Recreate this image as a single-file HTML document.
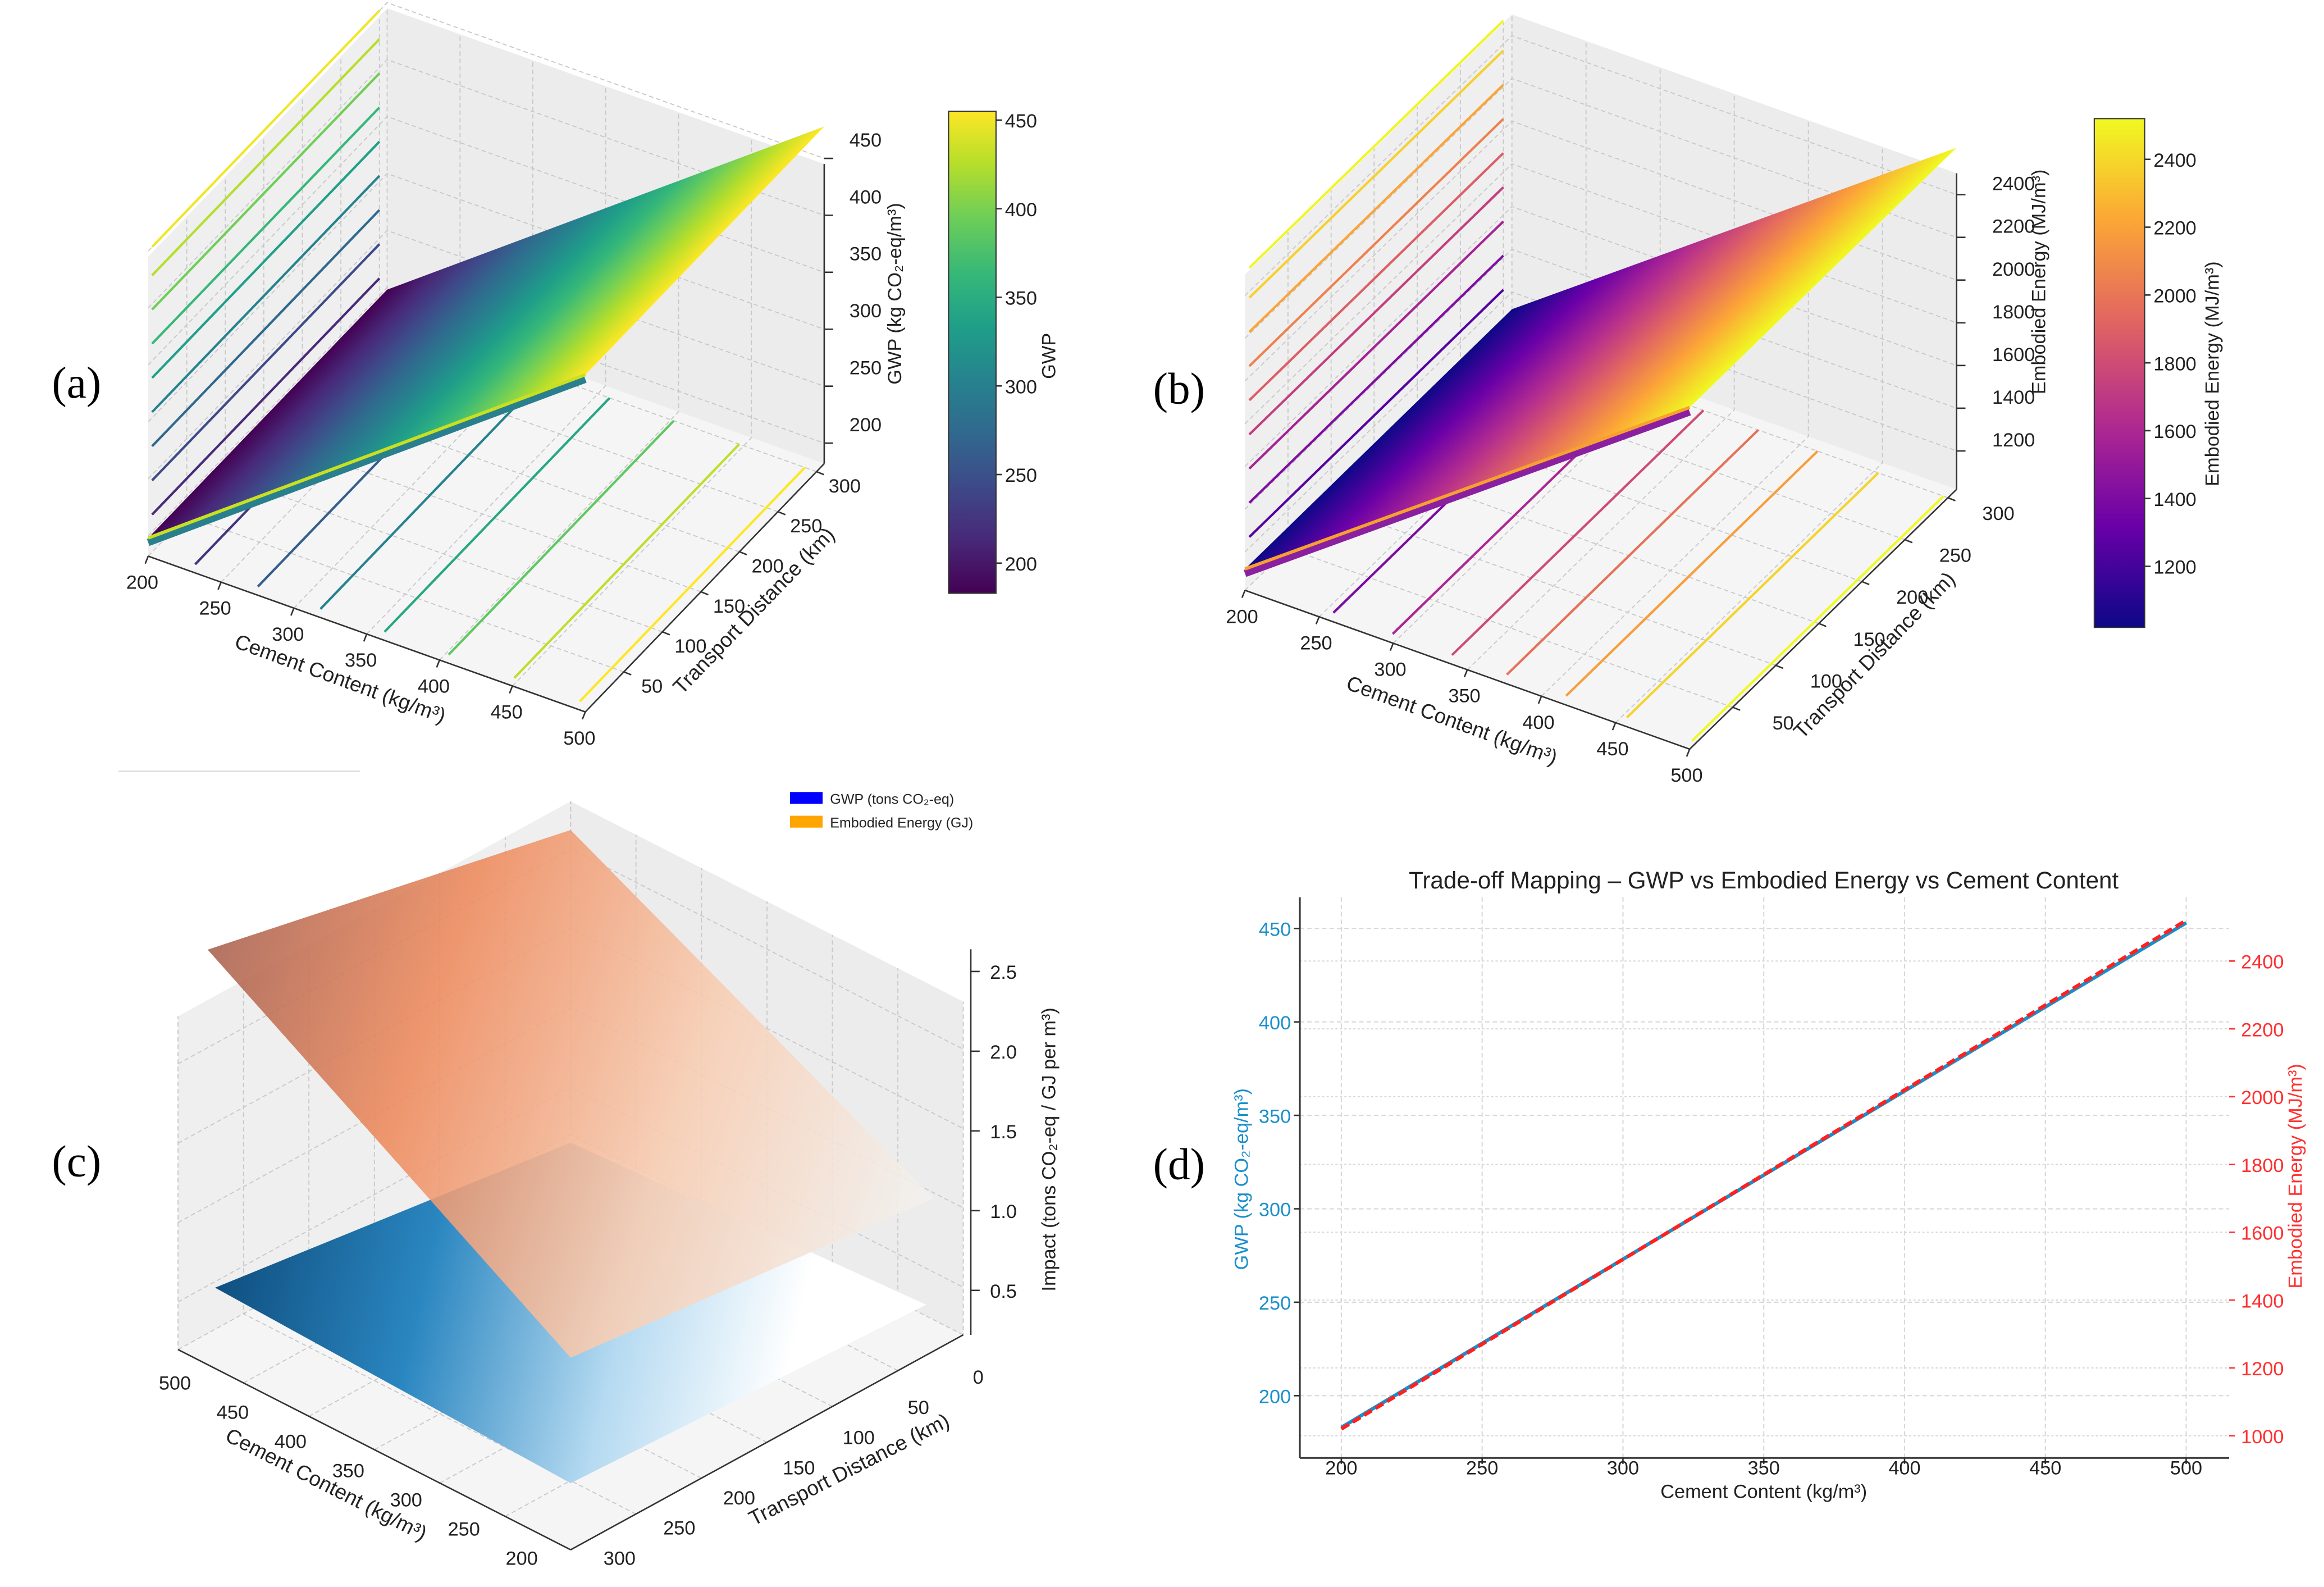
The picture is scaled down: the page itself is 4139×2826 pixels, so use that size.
<!DOCTYPE html>
<html><head><meta charset="utf-8"><style>
html,body{margin:0;padding:0;background:#fff;}
svg{display:block;}
text{font-family:"Liberation Sans","DejaVu Sans",sans-serif;}
</style></head>
<body>
<svg id="fig" xmlns="http://www.w3.org/2000/svg" width="4139" height="2826" viewBox="0 0 1568 1070" preserveAspectRatio="none">
<defs>
<linearGradient id="vir" x1="0" y1="1" x2="0" y2="0">
<stop offset="0" stop-color="#440154"/><stop offset="0.11" stop-color="#482878"/><stop offset="0.22" stop-color="#3e4989"/><stop offset="0.33" stop-color="#31688e"/><stop offset="0.44" stop-color="#26828e"/><stop offset="0.55" stop-color="#1f9e89"/><stop offset="0.66" stop-color="#35b779"/><stop offset="0.78" stop-color="#6ece58"/><stop offset="0.89" stop-color="#b5de2b"/><stop offset="1" stop-color="#fde725"/>
</linearGradient>
<linearGradient id="pla" x1="0" y1="1" x2="0" y2="0">
<stop offset="0" stop-color="#0d0887"/><stop offset="0.2" stop-color="#6a00a8"/><stop offset="0.4" stop-color="#b12a90"/><stop offset="0.6" stop-color="#e16462"/><stop offset="0.8" stop-color="#fca636"/><stop offset="1" stop-color="#f0f921"/>
</linearGradient>
</defs>
<g id="pa"></g>
<g id="pb"></g>
<g id="pc"></g>
<g id="pd"></g>
<text x="35" y="268" font-size="30" style="font-family:'Liberation Serif',serif">(a)</text>
<text x="778" y="272" font-size="30" style="font-family:'Liberation Serif',serif">(b)</text>
<text x="35" y="793" font-size="30" style="font-family:'Liberation Serif',serif">(c)</text>
<text x="778" y="795" font-size="30" style="font-family:'Liberation Serif',serif">(d)</text>
<line x1="80" y1="520" x2="243" y2="520" stroke="#ddd" stroke-width="1"/>
</svg>
<script>
// ---------- data ----------
const cementTicks=[200,250,300,350,400,450,500];
const transportTicks=[50,100,150,200,250,300];
const gwpTicks=[200,250,300,350,400,450];
const energyTicks=[1200,1400,1600,1800,2000,2200,2400];
const cbarGwpTicks=[200,250,300,350,400,450];
const cbarEnergyTicks=[1200,1400,1600,1800,2000,2200,2400];
const surfCement=[200,500];
const surfGwp=[198,478];
const surfEnergy=[1120,2620];
const wallLevelsA=[215,245,275,305,335,365,395,425,450];
const floorCementA=[228,271,314,358,402,447,492];
const wallLevelsB=[1250,1410,1570,1730,1890,2050,2210,2370,2510];
const floorCementB=[255,295,335,372,412,453,497];
const cTicksC=[500,450,400,350,300,250,200];
const tTicksC=[0,50,100,150,200,250,300];
const zTicksC=[0.5,1.0,1.5,2.0,2.5];
const energyCornersC=[2.72,2.12,1.06,1.41]; // (500,300),(500,0),(200,0),(200,300)
const gwpCornersC=[0.59,0.15,0.39,0.62];
const dCement=[200,500];
const dGwp=[183,453];
const dEnergy=[1020,2520];
const dXTicks=[200,250,300,350,400,450,500];
const dYLTicks=[200,250,300,350,400,450];
const dYRTicks=[1000,1200,1400,1600,1800,2000,2200,2400];

const NS='http://www.w3.org/2000/svg';
function mk(tag,attrs,parent,name){
  const e=document.createElementNS(NS,tag);
  for(const k in attrs)e.setAttribute(k,attrs[k]);
  
  
  parent.appendChild(e);return e;
}
function txt(parent,x,y,s,size,name,opts){
  opts=opts||{};
  const e=mk('text',{x:x,y:y,'font-size':size,'text-anchor':opts.anchor||'middle',fill:opts.fill||'#222'},parent,name);
  if(opts.rot!==undefined)e.setAttribute('transform','rotate('+opts.rot+' '+x+' '+y+')');
  e.textContent=s;return e;
}
const virStops=['#440154','#482878','#3e4989','#31688e','#26828e','#1f9e89','#35b779','#6ece58','#b5de2b','#fde725'];
const plaStops=['#0d0887','#6a00a8','#b12a90','#e16462','#fca636','#f0f921'];
function hx(h){return [parseInt(h.substr(1,2),16),parseInt(h.substr(3,2),16),parseInt(h.substr(5,2),16)];}
function cmap(st,f){f=Math.max(0,Math.min(1,f));const p=f*(st.length-1);const i=Math.min(st.length-2,Math.floor(p));const r=p-i;const a=hx(st[i]),b=hx(st[i+1]);return 'rgb('+a.map((v,k)=>Math.round(v+(b[k]-v)*r)).join(',')+')';}
function pts(a){return a.map(p=>p[0].toFixed(1)+','+p[1].toFixed(1)).join(' ');}
function lerpLin(xs,ys,x){return ys[0]+(ys[1]-ys[0])*(x-xs[0])/(xs[1]-xs[0]);}

// ---------- 3D panels a & b ----------
function panel3D(g,cfg){
  const P=(c,t,z)=>[cfg.o[0]+(c-200)*cfg.ex[0]+t*cfg.et[0], cfg.o[1]+(c-200)*cfg.ex[1]+t*cfg.et[1]-(z-cfg.zMin)*cfg.ez];
  const T=310,zm=cfg.zMin,zM=cfg.zMax;
  mk('polygon',{points:pts([P(200,0,zm),P(200,T,zm),P(500,T,zm),P(500,0,zm)]),fill:'#f5f5f5'},g,'floor-pane');
  mk('polygon',{points:pts([P(200,0,zm),P(200,T,zm),P(200,T,zM),P(200,0,zM)]),fill:'#efefef'},g,'left-wall-pane');
  mk('polygon',{points:pts([P(200,T,zm),P(500,T,zm),P(500,T,zM),P(200,T,zM)]),fill:'#ececec'},g,'back-wall-pane');
  const gs={stroke:'#c8c8c8','stroke-width':0.7,'stroke-dasharray':'3,2',fill:'none'};
  cementTicks.forEach(c=>{mk('polyline',Object.assign({points:pts([P(c,0,zm),P(c,T,zm),P(c,T,zM)])},gs),g,'grid-line-cement');});
  transportTicks.forEach(t=>{mk('polyline',Object.assign({points:pts([P(500,t,zm),P(200,t,zm),P(200,t,zM)])},gs),g,'grid-line-transport');});
  cfg.zTicks.forEach(z=>{mk('polyline',Object.assign({points:pts([P(200,0,z),P(200,T,z),P(500,T,z)])},gs),g,'grid-line-z');});
  cfg.wallLevels.forEach(z=>{const f=(z-cfg.cMin)/(cfg.cMax-cfg.cMin);
    const a=P(200,5,z),b=P(200,300,z);
    mk('line',{x1:a[0],y1:a[1],x2:b[0],y2:b[1],stroke:cmap(cfg.stops,f),'stroke-width':1.6},g,'wall-contour-line');});
  cfg.floorCement.forEach(c=>{const z=lerpLin(surfCement,cfg.surf,c);const f=(z-cfg.cMin)/(cfg.cMax-cfg.cMin);
    const a=P(c,8,zm),b=P(c,300,zm);
    mk('line',{x1:a[0],y1:a[1],x2:b[0],y2:b[1],stroke:cmap(cfg.stops,f),'stroke-width':1.6},g,'floor-contour-line');});
  const id='sg'+cfg.key;
  const s0=P(200,0,cfg.surf[0]),s1=P(500,0,cfg.surf[1]);
  const d0=cfg.et[0],d1=cfg.et[1],dl=Math.hypot(d0,d1);
  const n=[-d1/dl,d0/dl];
  const pr=(s1[0]-s0[0])*n[0]+(s1[1]-s0[1])*n[1];
  const lg=mk('linearGradient',{id:id,gradientUnits:'userSpaceOnUse',x1:s0[0],y1:s0[1],x2:s0[0]+n[0]*pr,y2:s0[1]+n[1]*pr},g,'surface-gradient');
  cfg.stops.forEach((c,i)=>{mk('stop',{offset:i/(cfg.stops.length-1),'stop-color':c},lg,'gradient-stop');});
  const surf=[P(200,0,cfg.surf[0]),P(200,T,cfg.surf[0]),P(500,T,cfg.surf[1]),P(500,0,cfg.surf[1])];
  mk('polygon',{points:pts(surf),fill:'url(#'+id+')'},g,'surface');
  const band=[P(200,0,cfg.surf[0]),P(500,0,cfg.surf[1])];
  mk('line',{x1:band[0][0],y1:band[0][1]+3,x2:band[1][0],y2:band[1][1]+3,stroke:cfg.bandLow,'stroke-width':5},g,'surface-front-band');
  mk('line',{x1:band[0][0],y1:band[0][1],x2:band[1][0],y2:band[1][1],stroke:cfg.bandHigh,'stroke-width':2.2},g,'surface-front-edge');
  const ax={stroke:'#333','stroke-width':1};
  let a=P(200,0,zm),b=P(500,0,zm);
  mk('line',Object.assign({x1:a[0],y1:a[1],x2:b[0],y2:b[1]},ax),g,'cement-axis');
  a=P(500,0,zm);b=P(500,T,zm);
  mk('line',Object.assign({x1:a[0],y1:a[1],x2:b[0],y2:b[1]},ax),g,'transport-axis');
  a=P(500,T,zm);b=P(500,T,zM);
  mk('line',Object.assign({x1:a[0],y1:a[1],x2:b[0],y2:b[1]},ax),g,'z-axis');
  cementTicks.forEach(c=>{const p=P(c,0,zm);mk('line',{x1:p[0],y1:p[1],x2:p[0]-2,y2:p[1]+5,stroke:'#333'},g,'cement-tick');
    txt(g,p[0]+cfg.cOff[0],p[1]+cfg.cOff[1],String(c),13,'cement-tick-label');});
  transportTicks.forEach(t=>{const p=P(500,t,zm);mk('line',{x1:p[0],y1:p[1],x2:p[0]+5,y2:p[1]+2,stroke:'#333'},g,'transport-tick');
    txt(g,p[0]+cfg.tOff[0],p[1]+cfg.tOff[1],String(t),13,'transport-tick-label');});
  cfg.zTicks.forEach(z=>{const p=P(500,T,z);mk('line',{x1:p[0],y1:p[1],x2:p[0]+6,y2:p[1],stroke:'#333'},g,'z-tick');
    txt(g,p[0]+cfg.zOff[0],p[1]+cfg.zOff[1]+4,String(z),13,'z-tick-label',{anchor:'start'});});
  txt(g,cfg.cLab[0],cfg.cLab[1],'Cement Content (kg/m³)',14,'cement-axis-title',{rot:20});
  txt(g,cfg.tLab[0],cfg.tLab[1],'Transport Distance (km)',14,'transport-axis-title',{rot:-46});
  txt(g,cfg.zLab[0],cfg.zLab[1],cfg.zTitle,13,'z-axis-title',{rot:-90});
  const cb=cfg.cbar;
  mk('rect',{x:cb.x,y:cb.y0,width:cb.w,height:cb.y1-cb.y0,fill:'url(#'+cfg.grad+')',stroke:'#333','stroke-width':0.8},g,'colorbar');
  const cy=v=>cb.y1-(v-cfg.cMin)/(cfg.cMax-cfg.cMin)*(cb.y1-cb.y0);
  cfg.cbTicks.forEach(v=>{const y=cy(v);mk('line',{x1:cb.x+cb.w,y1:y,x2:cb.x+cb.w+4,y2:y,stroke:'#333'},g,'colorbar-tick');
    txt(g,cb.x+cb.w+6,y+5,String(v),13,'colorbar-tick-label',{anchor:'start'});});
  txt(g,cb.lab[0],cb.lab[1],cfg.cbTitle,13,'colorbar-title',{rot:-90});
}
panel3D(document.getElementById('pa'),{key:'a',o:[100,375],ex:[0.983,0.35],et:[0.52,-0.54],ez:0.768,zMin:182,zMax:445,
  zTicks:gwpTicks,wallLevels:wallLevelsA,floorCement:floorCementA,surf:surfGwp,cMin:183,cMax:455,stops:virStops,
  bandLow:'#2a7f8e',bandHigh:'#c8e020',cOff:[-4,22],tOff:[19,14],zOff:[17,-12],
  cLab:[228,462],tLab:[512,415],zLab:[608,198],zTitle:'GWP (kg CO₂-eq/m³)',
  cbar:{x:640,y0:75,y1:400,w:32,lab:[712,240]},grad:'vir',cbTicks:cbarGwpTicks,cbTitle:'GWP'});
panel3D(document.getElementById('pb'),{key:'b',o:[840,398],ex:[1.0,0.357],et:[0.581,-0.565],ez:0.144,zMin:1020,zMax:2500,
  zTicks:energyTicks,wallLevels:wallLevelsB,floorCement:floorCementB,surf:surfEnergy,cMin:1020,cMax:2520,stops:plaStops,
  bandLow:'#8a20a0',bandHigh:'#f7a030',cOff:[-2,22],tOff:[34,15],zOff:[24,-7],
  cLab:[978,490],tLab:[1268,445],zLab:[1380,190],zTitle:'Embodied Energy (MJ/m³)',
  cbar:{x:1413,y0:80,y1:423,w:34,lab:[1497,252]},grad:'pla',cbTicks:cbarEnergyTicks,cbTitle:'Embodied Energy (MJ/m³)'});

// ---------- panel c ----------
(function(){
  const g=document.getElementById('pc');
  const D=[385,765],zMin=0.2,zMax=2.3,ez=107;
  const P=(c,t,z)=>[D[0]+(500-c)*0.883+t*(-0.883),D[1]+(500-c)*0.45+t*0.483-(z-zMin)*ez];
  mk('polygon',{points:pts([P(500,0,zMin),P(500,300,zMin),P(200,300,zMin),P(200,0,zMin)]),fill:'#f5f5f5'},g,'floor-pane');
  mk('polygon',{points:pts([P(500,0,zMin),P(500,300,zMin),P(500,300,zMax),P(500,0,zMax)]),fill:'#efefef'},g,'left-wall-pane');
  mk('polygon',{points:pts([P(500,0,zMin),P(200,0,zMin),P(200,0,zMax),P(500,0,zMax)]),fill:'#ececec'},g,'back-wall-pane');
  const gs={stroke:'#c8c8c8','stroke-width':0.7,'stroke-dasharray':'3,2',fill:'none'};
  cTicksC.forEach(c=>{mk('polyline',Object.assign({points:pts([P(c,300,zMin),P(c,0,zMin),P(c,0,zMax)])},gs),g,'grid-line-cement');});
  tTicksC.forEach(t=>{mk('polyline',Object.assign({points:pts([P(200,t,zMin),P(500,t,zMin),P(500,t,zMax)])},gs),g,'grid-line-transport');});
  zTicksC.forEach(z=>{if(z<=zMax)mk('polyline',Object.assign({points:pts([P(500,300,z),P(500,0,z),P(200,0,z)])},gs),g,'grid-line-z');});
  const corners=[[500,300],[500,0],[200,0],[200,300]];
  function plane(vals,id,stops,name,op,inset,toMid){
    const ps=corners.map((c,i)=>P(c[0],c[1],vals[i]));
    ps[0][0]+=inset;ps[2][0]-=inset;
    const a=ps[0];
    const b=toMid?[(ps[2][0]+ps[3][0])/2+20,(ps[2][1]+ps[3][1])/2+15]:ps[2];
    const lg=mk('linearGradient',{id:id,gradientUnits:'userSpaceOnUse',x1:a[0],y1:a[1],x2:b[0],y2:b[1]},g,name+'-gradient');
    stops.forEach(s=>{mk('stop',{offset:s[0],'stop-color':s[1]},lg,'gradient-stop');});
    mk('polygon',{points:pts(ps),fill:'url(#'+id+')','fill-opacity':op},g,name);
  }
  plane(gwpCornersC,'gblue',[[0,'#0f4f80'],[0.35,'#2a86c0'],[0.7,'#b5daf1'],[1,'#ffffff']],'gwp-surface',1,25,true);
  plane(energyCornersC,'gorange',[[0,'#a8604e'],[0.3,'#ee8a5c'],[0.65,'#f8cdb2'],[1,'#f2f2f0']],'energy-surface',0.88,20,false);
  const ax={stroke:'#333','stroke-width':1};
  let a=P(500,300,zMin),b=P(200,300,zMin);
  mk('line',Object.assign({x1:a[0],y1:a[1],x2:b[0],y2:b[1]},ax),g,'cement-axis');
  a=P(200,300,zMin);b=P(200,0,zMin);
  mk('line',Object.assign({x1:a[0],y1:a[1],x2:b[0],y2:b[1]},ax),g,'transport-axis');
  mk('line',{x1:655,y1:900,x2:655,y2:640,stroke:'#333','stroke-width':1},g,'z-axis');
  cTicksC.forEach(c=>{const f=(500-c)/300;txt(g,118+234*f,937+118*f,String(c),13,'cement-tick-label');});
  tTicksC.forEach(t=>{const f=t/300;txt(g,660-242*f,933+122*f,String(t),13,'transport-tick-label');});
  zTicksC.forEach(z=>{const y=870-(z-0.5)*107.5;mk('line',{x1:655,y1:y,x2:661,y2:y,stroke:'#333'},g,'z-tick');
    txt(g,668,y+5,z.toFixed(1),13,'z-tick-label',{anchor:'start'});});
  txt(g,218,1005,'Cement Content (kg/m³)',14,'cement-axis-title',{rot:27});
  txt(g,575,995,'Transport Distance (km)',14,'transport-axis-title',{rot:-27});
  txt(g,712,775,'Impact (tons CO₂-eq / GJ per m³)',13,'z-axis-title',{rot:-90});
  mk('rect',{x:533,y:534,width:22,height:8,fill:'#0000ff'},g,'legend-swatch-gwp');
  txt(g,560,542,'GWP (tons CO₂-eq)',9.5,'legend-entry-gwp',{anchor:'start'});
  mk('rect',{x:533,y:550,width:22,height:8,fill:'#ffa500'},g,'legend-swatch-energy');
  txt(g,560,558,'Embodied Energy (GJ)',9.5,'legend-entry-energy',{anchor:'start'});
})();

// ---------- panel d ----------
(function(){
  const g=document.getElementById('pd');
  const X=c=>905+(c-200)*1.9;
  const YL=v=>941-(v-200)*1.26;
  const YR=v=>968-(v-1000)*0.2286;
  const L=877,R=1504,Tp=605,B=983;
  dXTicks.forEach(c=>{mk('line',{x1:X(c),y1:Tp,x2:X(c),y2:B,stroke:'#d8d8d8','stroke-dasharray':'3,2','stroke-width':0.8},g,'grid-line-x');});
  dYLTicks.forEach(v=>{mk('line',{x1:L,y1:YL(v),x2:R,y2:YL(v),stroke:'#d8d8d8','stroke-dasharray':'3,2','stroke-width':0.8},g,'grid-line-y-left');});
  dYRTicks.forEach(v=>{mk('line',{x1:L,y1:YR(v),x2:R,y2:YR(v),stroke:'#d8d8d8','stroke-dasharray':'1.5,1.5','stroke-width':0.8},g,'grid-line-y-right');});
  mk('line',{x1:L,y1:Tp,x2:L,y2:B,stroke:'#333','stroke-width':1.2},g,'left-spine');
  mk('line',{x1:L,y1:B,x2:R,y2:B,stroke:'#333','stroke-width':1.2},g,'bottom-spine');
  dXTicks.forEach(c=>{mk('line',{x1:X(c),y1:B,x2:X(c),y2:B+4,stroke:'#333'},g,'x-tick');txt(g,X(c),B+11,String(c),13,'x-tick-label');});
  dYLTicks.forEach(v=>{mk('line',{x1:L-4,y1:YL(v),x2:L,y2:YL(v),stroke:'#333'},g,'y-left-tick');txt(g,L-6,YL(v)+5,String(v),13,'y-left-tick-label',{anchor:'end',fill:'#1a8fca'});});
  dYRTicks.forEach(v=>{mk('line',{x1:R,y1:YR(v),x2:R+4,y2:YR(v),stroke:'#ff3030'},g,'y-right-tick');txt(g,R+8,YR(v)+5,String(v),13,'y-right-tick-label',{anchor:'start',fill:'#ff3030'});});
  mk('line',{x1:X(dCement[0]),y1:YL(dGwp[0]),x2:X(dCement[1]),y2:YL(dGwp[1]),stroke:'#1a8fca','stroke-width':2.4},g,'gwp-line');
  mk('line',{x1:X(dCement[0]),y1:YR(dEnergy[0]),x2:X(dCement[1]),y2:YR(dEnergy[1]),stroke:'#ff2020','stroke-width':2.4,'stroke-dasharray':'6,3'},g,'energy-line');
  txt(g,1190,599,'Trade-off Mapping – GWP vs Embodied Energy vs Cement Content',16,'chart-title');
  txt(g,1190,1010,'Cement Content (kg/m³)',13,'x-axis-title');
  txt(g,842,795,'GWP (kg CO₂-eq/m³)',13,'y-left-axis-title',{rot:-90,fill:'#1a8fca'});
  txt(g,1553,793,'Embodied Energy (MJ/m³)',13,'y-right-axis-title',{rot:-90,fill:'#ff3030'});
})();
</script>
</body></html>
